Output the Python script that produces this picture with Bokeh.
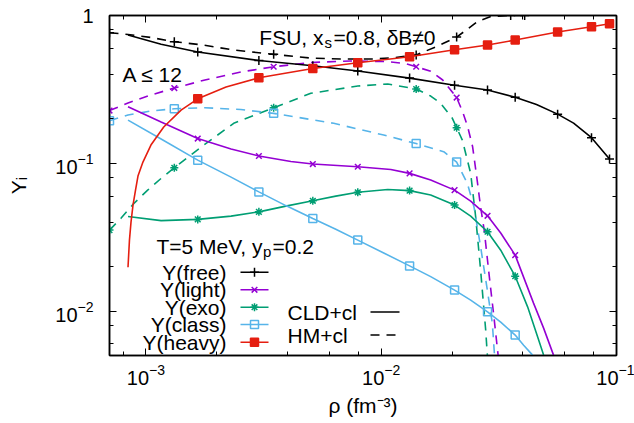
import numpy as np
from bokeh.plotting import figure
from bokeh.models import LogAxis, LogTicker, Label, Range1d
from bokeh.embed import file_html
from bokeh.resources import INLINE

# ---------------------------------------------------------------- data
RHO_MIN, RHO_MAX = 7.0e-4, 1.0e-1
Y_MIN, Y_MAX = 5.0e-3, 1.0

# CLD+cl (solid curves)
free_cld_rho = [8.39e-4, 1.16e-3, 1.66e-3, 3.02e-3, 5.12e-3, 7.95e-3, 1.32e-2, 2.05e-2,
                2.83e-2, 3.71e-2, 4.57e-2, 5.62e-2, 6.57e-2, 7.83e-2, 9.34e-2]
free_cld_y = [0.738, 0.639, 0.566, 0.496, 0.457, 0.421, 0.377, 0.337,
              0.313, 0.280, 0.250, 0.215, 0.187, 0.149, 0.107]

light_cld_rho = [8.39e-4, 1.16e-3, 1.66e-3, 2.30e-3, 3.02e-3, 4.13e-3, 5.12e-3, 7.95e-3,
                 1.098e-2, 1.32e-2, 1.623e-2, 2.05e-2, 2.40e-2, 2.83e-2, 3.22e-2, 3.71e-2,
                 4.44e-2, 4.90e-2, 5.40e-2]
light_cld_y = [0.241, 0.190, 0.147, 0.1248, 0.112, 0.1027, 0.0988, 0.0947,
               0.0907, 0.0854, 0.0770, 0.0658, 0.0555, 0.0441, 0.0337, 0.0239,
               0.01131, 0.00766, 0.00503]

exo_cld_rho = [8.39e-4, 1.16e-3, 1.66e-3, 2.30e-3, 3.02e-3, 3.93e-3, 5.12e-3, 6.41e-3,
               7.95e-3, 1.066e-2, 1.32e-2, 1.623e-2, 2.05e-2, 2.40e-2, 2.83e-2, 3.22e-2,
               3.71e-2, 4.19e-2, 4.62e-2, 4.90e-2]
exo_cld_y = [0.0436, 0.0409, 0.0417, 0.0439, 0.0469, 0.0513, 0.0557, 0.0599,
             0.0636, 0.0664, 0.0653, 0.0609, 0.0521, 0.0439, 0.0344, 0.0258,
             0.0172, 0.01067, 0.00669, 0.00503]

class_cld_rho = [8.39e-4, 1.16e-3, 1.66e-3, 2.30e-3, 3.02e-3, 3.93e-3, 5.12e-3, 6.41e-3,
                 7.95e-3, 1.025e-2, 1.32e-2, 1.623e-2, 2.05e-2, 2.40e-2, 2.83e-2, 3.22e-2,
                 3.71e-2, 4.03e-2, 4.40e-2]
class_cld_y = [0.196, 0.146, 0.105, 0.0806, 0.0640, 0.0517, 0.0423, 0.0358,
               0.0302, 0.0247, 0.0202, 0.0171, 0.01385, 0.01185, 0.00988, 0.00841,
               0.00687, 0.00587, 0.00503]

heavy_cld_rho = [8.39e-4, 8.51e-4, 8.64e-4, 8.81e-4, 9.03e-4, 9.25e-4, 9.71e-4, 1.05e-3,
                 1.19e-3, 1.41e-3, 1.66e-3, 2.19e-3, 3.02e-3, 5.12e-3, 7.95e-3, 1.32e-2,
                 2.05e-2, 2.83e-2, 3.71e-2, 5.62e-2, 7.83e-2, 9.34e-2]
heavy_cld_y = [0.0198, 0.0302, 0.0400, 0.0521, 0.0658, 0.0819, 0.1019, 0.1328,
               0.176, 0.229, 0.273, 0.328, 0.379, 0.438, 0.479, 0.526,
               0.587, 0.631, 0.682, 0.773, 0.840, 0.880]

# HM+cl (dashed curves)
free_hm_rho = [7.0e-4, 8.39e-4, 1.05e-3, 1.32e-3, 1.75e-3, 2.36e-3, 3.49e-3, 5.02e-3,
               6.73e-3, 9.48e-3, 1.15e-2, 1.408e-2, 1.74e-2, 2.092e-2, 2.33e-2, 2.57e-2,
               2.92e-2, 3.55e-2, 4.07e-2]
free_hm_y = [0.765, 0.744, 0.710, 0.665, 0.631, 0.584, 0.546, 0.515,
             0.508, 0.508, 0.520, 0.540, 0.622, 0.715, 0.810, 0.911,
             0.984, 1.0, 1.0]

light_hm_rho = [7.0e-4, 8.39e-4, 1.05e-3, 1.32e-3, 1.78e-3, 2.53e-3, 3.49e-3, 5.02e-3,
                7.42e-3, 1.045e-2, 1.27e-2, 1.408e-2, 1.623e-2, 1.825e-2, 2.092e-2, 2.22e-2,
                2.33e-2, 2.446e-2, 2.557e-2, 2.645e-2, 2.74e-2, 2.87e-2, 3.013e-2, 3.139e-2]
light_hm_y = [0.2274, 0.2557, 0.2895, 0.3229, 0.366, 0.4145, 0.450, 0.4806,
              0.492, 0.488, 0.473, 0.450, 0.419, 0.366, 0.2785, 0.222,
              0.1767, 0.1293, 0.0770, 0.0505, 0.0353, 0.01797, 0.00913, 0.00503]

exo_hm_rho = [7.0e-4, 7.83e-4, 8.89e-4, 1.017e-3, 1.16e-3, 1.32e-3, 1.763e-3, 2.36e-3,
              3.49e-3, 5.02e-3, 7.95e-3, 1.066e-2, 1.408e-2, 1.623e-2, 1.789e-2, 2.006e-2,
              2.092e-2, 2.212e-2, 2.323e-2, 2.40e-2, 2.52e-2, 2.645e-2, 2.78e-2, 2.825e-2]
exo_hm_y = [0.0353, 0.0424, 0.0535, 0.0658, 0.0790, 0.0932, 0.1328, 0.1863,
            0.2375, 0.2974, 0.333, 0.344, 0.318, 0.285, 0.2543, 0.2014,
            0.1739, 0.1436, 0.1051, 0.0854, 0.0434, 0.0189, 0.00742, 0.00503]

class_hm_rho = [7.0e-4, 8.39e-4, 1.05e-3, 1.32e-3, 1.78e-3, 2.53e-3, 3.49e-3, 6.28e-3,
                1.025e-2, 1.408e-2, 1.843e-2, 2.092e-2, 2.323e-2, 2.478e-2, 2.645e-2, 2.825e-2,
                2.967e-2, 3.03e-2]
class_hm_y = [0.194, 0.212, 0.2256, 0.2339, 0.2375, 0.2310, 0.2177, 0.1863,
              0.1552, 0.1359, 0.1197, 0.1019, 0.0731, 0.0508, 0.0272, 0.01385,
              0.00824, 0.00503]

# densities at which point symbols are drawn
CLD_MARKS = [1.66e-3, 3.02e-3, 5.12e-3, 7.95e-3, 1.32e-2, 2.05e-2, 2.83e-2, 3.71e-2,
             5.62e-2, 7.83e-2, 9.34e-2]
HM_MARKS = [7.0e-4, 1.32e-3, 3.49e-3, 1.408e-2, 2.092e-2, 3.55e-2, 4.07e-2]

SPECIES = ["Y(free)", "Y(light)", "Y(exo)", "Y(class)", "Y(heavy)"]
COLORS = ["black", "#9400D3", "#009E73", "#56B4E9", "#E51E10"]
MARKERS = ["cross", "x", "asterisk", "square", "square"]
FILLED = [False, False, False, False, True]
MSIZE = [9, 8, 8, 8, 8]

CLD = [(free_cld_rho, free_cld_y), (light_cld_rho, light_cld_y), (exo_cld_rho, exo_cld_y),
       (class_cld_rho, class_cld_y), (heavy_cld_rho, heavy_cld_y)]
HM = [(free_hm_rho, free_hm_y), (light_hm_rho, light_hm_y), (exo_hm_rho, exo_hm_y),
      (class_hm_rho, class_hm_y)]

# ---------------------------------------------------------------- layout
FONT = "Liberation Sans"
FS = "21px"
TICK_FS = "20px"
SUB = "15px"
W, H = 634, 423
FRAME_L, FRAME_T, FRAME_W, FRAME_H = 109, 15, 507, 340
FRAME_B = FRAME_T + FRAME_H
DASH = "9 7"
LW = 1.6

p = figure(width=W, height=H, frame_width=FRAME_W, frame_height=FRAME_H,
           x_axis_type="log", y_axis_type="log",
           x_range=Range1d(RHO_MIN, RHO_MAX), y_range=Range1d(Y_MIN, Y_MAX),
           output_backend="svg", toolbar_location=None,
           min_border_left=FRAME_L, min_border_top=FRAME_T,
           min_border_right=W - FRAME_L - FRAME_W, min_border_bottom=H - FRAME_B)
p.grid.visible = False
p.outline_line_color = "black"
p.outline_line_width = 1.5
p.background_fill_color = "white"
p.border_fill_color = "white"

p.add_layout(LogAxis(), "above")
p.add_layout(LogAxis(), "right")

for ax in p.axis:
    ax.ticker = LogTicker(desired_num_ticks=3)
    ax.major_tick_in = 7
    ax.major_tick_out = 0
    ax.minor_tick_in = 4
    ax.minor_tick_out = 0
    ax.axis_line_width = 1.5
    ax.major_tick_line_width = 1
    ax.minor_tick_line_width = 1
    ax.major_label_text_font = FONT
    ax.major_label_text_font_size = TICK_FS
    ax.major_label_text_color = "black"
    ax.axis_label_text_font = FONT
    ax.axis_label_text_font_size = FS
    ax.axis_label_text_font_style = "normal"
    ax.axis_label_text_color = "black"

# mirrored tick marks only, no numbers
for ax in p.above + p.right:
    ax.major_label_text_font_size = "1px"
    ax.major_label_text_alpha = 0
    ax.major_label_standoff = 0

xax, yax = p.below[0], p.left[0]
xax.major_label_standoff = 8
yax.major_label_standoff = 16
yax.major_label_overrides = {1: "1"}
xax.axis_label = "\u03c1 (fm\u207b\u00b3)"
xax.axis_label_standoff = 6
yax.axis_label = "Y\u1d62"
yax.axis_label_standoff = 22


def marked(rho, y, at):
    rho = np.asarray(rho)
    y = np.asarray(y)
    keep = np.array([np.any(np.abs(r / np.asarray(at) - 1) < 0.01) for r in rho])
    return rho[keep], y[keep]


def symbols(xs, ys, i):
    p.scatter(xs, ys, marker=MARKERS[i], size=MSIZE[i], line_color=COLORS[i],
              line_width=1.5, fill_color=COLORS[i] if FILLED[i] else None)


# HM+cl first, CLD+cl drawn on top
for i, (rho, y) in enumerate(HM):
    p.line(rho, y, line_color=COLORS[i], line_width=LW, line_dash=DASH)
    mx, my = marked(rho, y, HM_MARKS)
    symbols(mx, my, i)

for i, (rho, y) in enumerate(CLD):
    p.line(rho, y, line_color=COLORS[i], line_width=LW)
    mx, my = marked(rho, y, CLD_MARKS)
    symbols(mx, my, i)


# ---------------------------------------------------------------- texts inside the frame
def put(px, py, text, size=FS, align="left", baseline="alphabetic"):
    p.add_layout(Label(x=px - FRAME_L, y=FRAME_B - py, x_units="screen", y_units="screen",
                       text=text, text_font=FONT, text_font_size=size, text_color="black",
                       text_align=align, text_baseline=baseline))


def to_rho(px):
    lo, hi = np.log10(RHO_MIN), np.log10(RHO_MAX)
    return 10 ** (lo + (px - FRAME_L) / FRAME_W * (hi - lo))


def to_y(py):
    lo, hi = np.log10(Y_MIN), np.log10(Y_MAX)
    return 10 ** (hi - (py - FRAME_T) / FRAME_H * (hi - lo))


put(122, 74, "A \u2264 12")
put(323, 37, "FSU, x", align="right")
put(324, 42, "s", size=SUB)
put(333, 37, "=0.8, \u03b4B\u22600")
put(262, 246, "T=5 MeV, y", align="right")
put(262.5, 251, "p", size=SUB)
put(272, 246, "=0.2")

# species key: name on the left, line sample with symbol on the right
ROWS = [271.7, 289.3, 306.7, 324.0, 341.7]
for i, name in enumerate(SPECIES):
    put(226, ROWS[i], name, align="right", baseline="middle")
    yy = to_y(ROWS[i])
    p.line([to_rho(240), to_rho(268)], [yy, yy], line_color=COLORS[i], line_width=LW)
    symbols([to_rho(254)], [yy], i)

# model key
put(287, 311.5, "CLD+cl", baseline="middle")
put(287, 334.5, "HM+cl", baseline="middle")
p.line([to_rho(370), to_rho(399)], [to_y(311.5)] * 2, line_color="black", line_width=LW)
p.line([to_rho(370), to_rho(399)], [to_y(334.5)] * 2, line_color="black", line_width=LW,
       line_dash=DASH)

open("out.html", "w").write(file_html(p, INLINE))
